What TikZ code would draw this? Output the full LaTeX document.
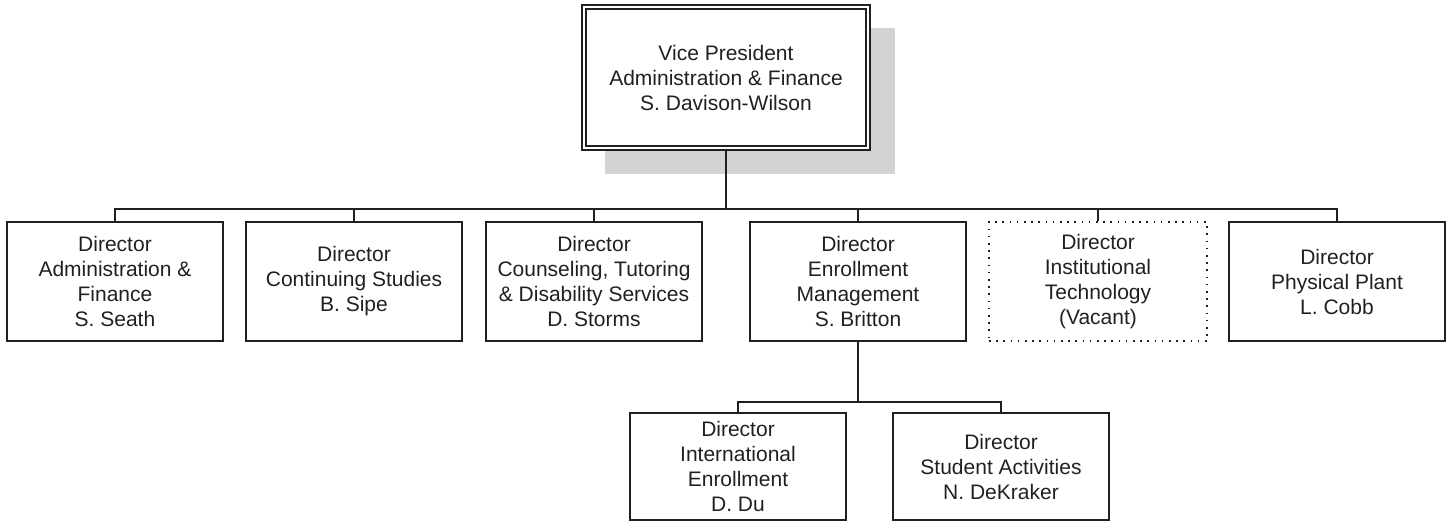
\documentclass[tikz,border=0pt]{standalone}
\usepackage{fontspec}
\setmainfont{Liberation Sans}
\definecolor{shadowgray}{RGB}{211,211,213}
\definecolor{inkline}{RGB}{35,31,32}
\begin{document}
\begin{tikzpicture}[x=0.5pt,y=-0.5pt,
  every node/.style={inner sep=0pt, align=center, text=inkline,
    font=\fontsize{10.5}{12.5}\selectfont},
  dirbox/.style={draw=inkline, line width=0.9pt, minimum width=108pt, minimum height=59.5pt},
  vacantbox/.style={draw=inkline, line width=0.9pt, dash pattern=on 0.8pt off 2.8pt, minimum width=109pt, minimum height=59.5pt},
  childbox/.style={draw=inkline, line width=0.9pt, minimum width=108pt, minimum height=53.5pt},
  topbox/.style={draw=inkline, double, double distance=1.4pt, line width=0.7pt, fill=white, minimum width=142pt, minimum height=70.5pt},
  link/.style={draw=inkline, line width=1pt}]
\useasboundingbox (0,0) rectangle (1450,521);
% shadow
\fill[shadowgray] (605,28) rectangle (895,174);
% top
\node[topbox] (vp) at (726,77.5) {Vice President\\Administration \& Finance\\S. Davison-Wilson};
% directors
\node[dirbox] (d1) at (115,281.5) {Director\\Administration \&\\Finance\\S. Seath};
\node[dirbox] (d2) at (354,281.5) {Director\\Continuing Studies\\B. Sipe};
\node[dirbox] (d3) at (594,281.5) {Director\\Counseling, Tutoring\\\& Disability Services\\D. Storms};
\node[dirbox] (d4) at (858,281.5) {Director\\Enrollment\\Management\\S. Britton};
\node[vacantbox] (d5) at (1098,281.5) {Director\\Institutional\\Technology\\(Vacant)};
\node[dirbox] (d6) at (1337,281.5) {Director\\Physical Plant\\L. Cobb};
% children
\node[childbox] (c1) at (738,466.5) {Director\\International\\Enrollment\\D. Du};
\node[childbox] (c2) at (1001,466.5) {Director\\Student Activities\\N. DeKraker};
% connectors
\coordinate (bus) at (726,209);
\coordinate (bus2) at (858,402);
\draw[link] (vp.south) -- (bus);
\foreach \n in {d1,d2,d3,d4,d5,d6} {\draw[link] (\n.north) |- (bus);}
\draw[link] (d4.south) -- (bus2);
\draw[link] (c1.north) |- (bus2);
\draw[link] (c2.north) |- (bus2);
\end{tikzpicture}
\end{document}
